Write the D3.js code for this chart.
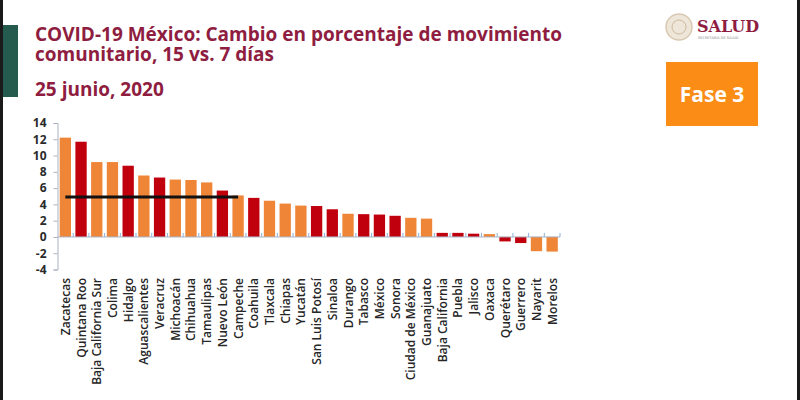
<!DOCTYPE html>
<html>
<head>
<meta charset="utf-8">
<script src="https://cdn.jsdelivr.net/npm/d3@7"></script>
<style>
  body { margin: 0; background: #fff; }
  svg { display: block; }
</style>
</head>
<body>
<div id="chart"></div>
<script>
// data
const states = ["Zacatecas", "Quintana Roo", "Baja California Sur", "Colima", "Hidalgo",
    "Aguascalientes", "Veracruz", "Michoacán", "Chihuahua", "Tamaulipas", "Nuevo León",
    "Campeche", "Coahuila", "Tlaxcala", "Chiapas", "Yucatán", "San Luis Potosí", "Sinaloa",
    "Durango", "Tabasco", "México", "Sonora", "Ciudad de México", "Guanajuato",
    "Baja California", "Puebla", "Jalisco", "Oaxaca", "Querétaro", "Guerrero", "Nayarit", "Morelos"];
const change = [12.2, 11.7, 9.2, 9.2, 8.75, 7.55, 7.3, 7.05, 7.0, 6.7, 5.7,
    5.1, 4.8, 4.45, 4.1, 3.85, 3.8, 3.4, 2.85, 2.8, 2.75, 2.6, 2.35, 2.25,
    0.5, 0.5, 0.4, 0.35, -0.55, -0.75, -1.75, -1.8];
// "r" = dark red bar, "o" = orange bar
const group = ["o", "r", "o", "o", "r", "o", "r", "o", "o", "o", "r",
    "o", "r", "o", "o", "o", "r", "r", "o", "r", "r", "r", "o", "o",
    "r", "r", "r", "o", "r", "r", "o", "o"];
const yTicks = [-4, -2, 0, 2, 4, 6, 8, 10, 12, 14];
const refLevel = 4.9;
const refFrom = "Zacatecas", refTo = "Campeche";
const titleLines = ["COVID-19 México: Cambio en porcentaje de movimiento", "comunitario, 15 vs. 7 días"];

const W = 800, H = 400;
const maroon = "#8e1d3f";

const svg = d3.select("#chart")
  .append("svg")
    .attr("width", W)
    .attr("height", H);

// page decoration: dark edges and green tab
svg.append("rect").attr("x", 0).attr("y", 0).attr("width", 3).attr("height", H).attr("fill", "#1a1a1a");
svg.append("rect").attr("x", 797).attr("y", 0).attr("width", 3).attr("height", H).attr("fill", "#1a1a1a");
svg.append("rect").attr("x", 3).attr("y", 25).attr("width", 15).attr("height", 72).attr("fill", "#245b4e");

// titles (two lines in one text element)
const title = svg.append("g")
    .attr("font-family", "'Open Sans', sans-serif")
    .attr("font-weight", 700)
    .attr("font-size", 19)
    .attr("fill", maroon);
title.append("text").attr("y", 41)
  .selectAll("tspan")
  .data(titleLines)
  .join("tspan")
    .attr("x", 35)
    .attr("dy", (d, i) => i === 0 ? 0 : 20)
    .text(d => d);
title.append("text").attr("x", 35).attr("y", 96)
    .text("25 junio, 2020");

// SALUD logo
svg.append("circle").attr("cx", 679).attr("cy", 27).attr("r", 13)
    .attr("fill", "#efe6da").attr("stroke", "#d9c9b2").attr("stroke-width", 1.5);
svg.append("circle").attr("cx", 679).attr("cy", 27).attr("r", 7)
    .attr("fill", "none").attr("stroke", "#cdb99c").attr("stroke-width", 1);
svg.append("text").attr("x", 697).attr("y", 32)
    .attr("font-family", "'DejaVu Serif', serif").attr("font-weight", 700)
    .attr("font-size", 16).attr("fill", maroon).text("SALUD");
svg.append("text").attr("x", 698).attr("y", 39)
    .attr("font-family", "'DejaVu Sans', sans-serif")
    .attr("font-size", 3.5).attr("fill", "#888").text("SECRETARÍA DE SALUD");

// Fase 3 box
svg.append("rect").attr("x", 666).attr("y", 62).attr("width", 92).attr("height", 64).attr("fill", "#fb8c16");
svg.append("text").attr("x", 712).attr("y", 102).attr("text-anchor", "middle")
    .attr("font-family", "'Open Sans', sans-serif").attr("font-weight", 700)
    .attr("font-size", 21).attr("fill", "#fff").text("Fase 3");

// scales
const x = d3.scaleBand()
    .domain(states)
    .range([57.5, 560])
    .paddingInner(0.28)
    .paddingOuter(0.14);
const y = d3.scaleLinear()
    .domain([-4, 14])
    .range([269.5, 123]);

const axisColor = "#a9b1c0";

// y axis
const yAxis = svg.append("g")
    .attr("transform", "translate(57.5,0)")
    .call(d3.axisLeft(y).tickValues(yTicks).tickFormat(d => String(d)).tickSize(4).tickPadding(7));
yAxis.select(".domain").attr("stroke", axisColor);
yAxis.selectAll(".tick line").attr("stroke", axisColor);
yAxis.selectAll(".tick text")
    .attr("font-family", "'Open Sans', sans-serif")
    .attr("font-weight", 700)
    .attr("font-size", 12)
    .attr("fill", "#2b2b2b");

// bars
svg.append("g")
  .selectAll("rect")
  .data(states)
  .join("rect")
    .attr("x", d => x(d))
    .attr("width", x.bandwidth())
    .attr("y", (d, i) => y(Math.max(0, change[i])))
    .attr("height", (d, i) => Math.abs(y(change[i]) - y(0)))
    .attr("fill", (d, i) => group[i] === "r" ? "#c1000d" : "#ef8537");

// zero line with category ticks
const step = x.step();
const bounds = d3.range(states.length + 1).map(i => 57.5 + i * step);
svg.append("line")
    .attr("x1", 57.5).attr("x2", 560)
    .attr("y1", y(0)).attr("y2", y(0))
    .attr("stroke", axisColor);
svg.append("g")
  .selectAll("line")
  .data(bounds.slice(1))
  .join("line")
    .attr("x1", d => d).attr("x2", d => d)
    .attr("y1", y(0)).attr("y2", y(0) - 4)
    .attr("stroke", "#8fb0d8");

// category labels
svg.append("g")
  .selectAll("text")
  .data(states)
  .join("text")
    .attr("transform", d => `translate(${x(d) + x.bandwidth() / 2 + 4.5},278) rotate(-90)`)
    .attr("text-anchor", "end")
    .attr("font-family", "'Open Sans', sans-serif")
    .attr("font-weight", 600)
    .attr("font-size", 12)
    .attr("fill", "#262626")
    .text(d => d);

// black reference line
svg.append("line")
    .attr("x1", x(refFrom) + x.bandwidth() / 2)
    .attr("x2", x(refTo) + x.bandwidth() / 2)
    .attr("y1", y(refLevel)).attr("y2", y(refLevel))
    .attr("stroke", "#111")
    .attr("stroke-width", 3);
</script>
</body>
</html>
